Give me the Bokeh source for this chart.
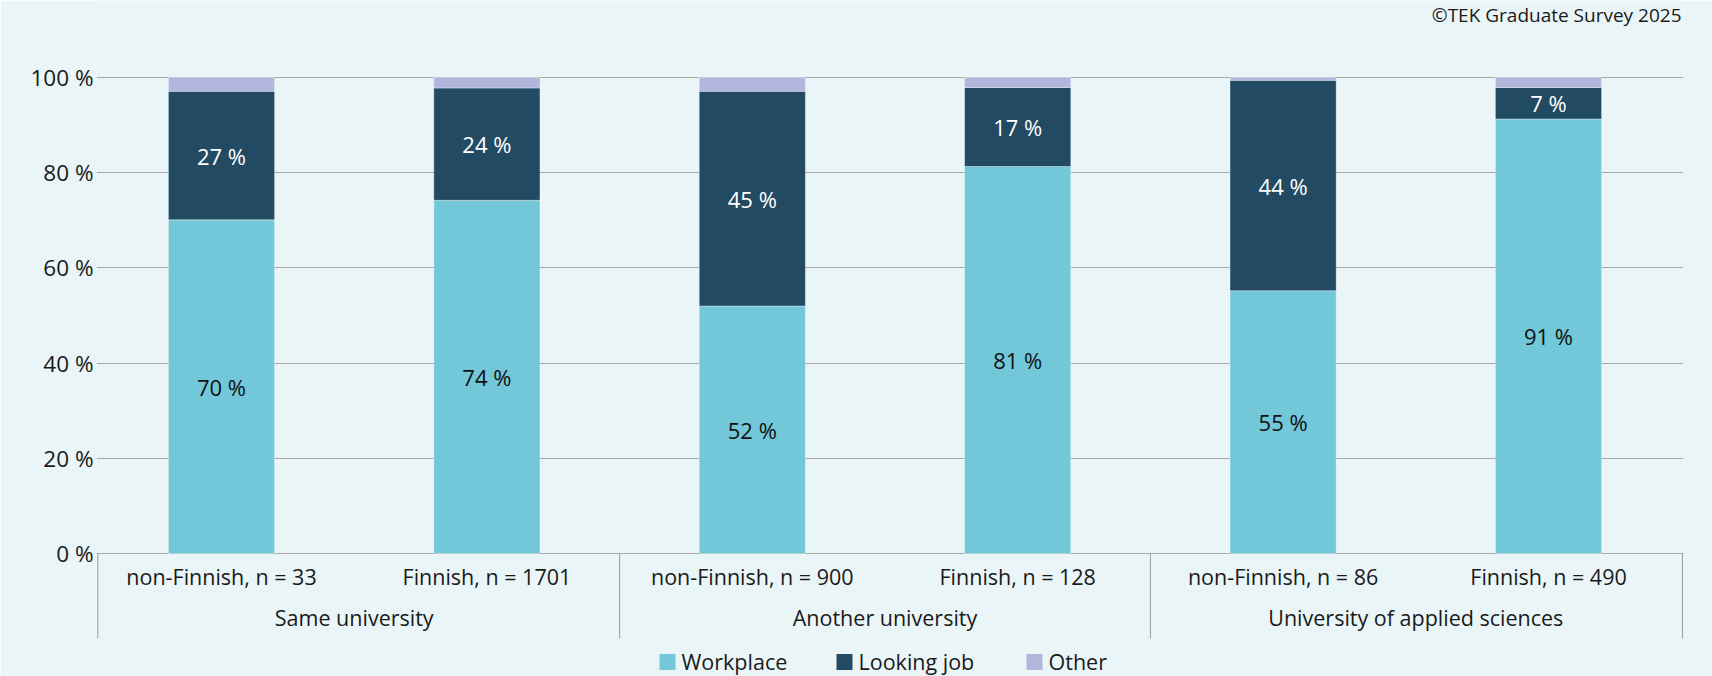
from bokeh.plotting import figure
from bokeh.models import ColumnDataSource, Range1d, FixedTicker
from bokeh.embed import file_html
from bokeh.resources import INLINE
from bokeh.core.properties import value

# ---------------- data ----------------
groups = ["Same university", "Another university", "University of applied sciences"]
subgroups = ["non-Finnish, n = 33", "Finnish, n = 1701",
             "non-Finnish, n = 900", "Finnish, n = 128",
             "non-Finnish, n = 86", "Finnish, n = 490"]
series = ["Workplace", "Looking job", "Other"]
workplace = [70.1, 74.2, 52.0, 81.3, 55.2, 91.3]
looking = [27.0, 23.6, 45.1, 16.6, 44.2, 6.6]
other = [2.9, 2.2, 2.9, 2.1, 0.6, 2.1]
y_ticks = [0, 20, 40, 60, 80, 100]
credit = "©TEK Graduate Survey 2025"

# ---------------- style ----------------
colors = ["#72c7d9", "#224a63", "#b0b6dc"]
BG = "#eaf5f7"
TXT = "#1a1a1a"
FONT = "Open Sans"
FS = "21.5px"
GRID = "#a8a8a8"
BOX = "#9a9a9a"

# ---------------- layout (pixels) ----------------
W, H = 1712, 676
FRAME_L, FRAME_R = 96, 1683
CAT_W = 265.4          # pixel width of one category
CAT0 = 88.3            # pixel where category index 0 begins
Y0_PX = 553.0          # pixel of value 0 (from top)
PX_PER = 4.76          # pixels per percent


def xd(px):
    return (px - CAT0) / CAT_W


def yd(py):
    return (Y0_PX - py) / PX_PER


p = figure(width=W, height=H, output_backend="svg", toolbar_location=None,
           x_axis_type=None,
           x_range=Range1d(xd(FRAME_L), xd(FRAME_R)),
           y_range=Range1d(yd(H), yd(0)),
           min_border_left=FRAME_L, min_border_right=W - FRAME_R,
           min_border_top=0, min_border_bottom=0)
p.background_fill_color = BG
p.border_fill_color = BG
p.outline_line_color = None

# y axis
yax = p.yaxis[0]
yax.ticker = FixedTicker(ticks=y_ticks)
yax.major_label_overrides = {t: f"{t} %" for t in y_ticks}
yax.axis_line_color = None
yax.major_tick_line_color = None
yax.minor_tick_line_color = None
yax.major_tick_out = 0
yax.major_tick_in = 0
yax.major_label_standoff = 3
yax.major_label_text_font = FONT
yax.major_label_text_font_size = "22.5px"
yax.major_label_text_color = TXT
p.ygrid.ticker = FixedTicker(ticks=y_ticks)
p.ygrid.grid_line_color = GRID
p.ygrid.grid_line_width = 1

# bars
xs = [i + 0.5 for i in range(len(subgroups))]
src = ColumnDataSource(dict(x=xs, Workplace=workplace, **{"Looking job": looking}, Other=other))
p.vbar_stack(series, x="x", width=0.40, color=colors, source=src,
             line_color="white", line_alpha=0.35, line_width=1)

# data labels
wp_y = [w / 2 for w in workplace]
lk_y = [w + l / 2 for w, l in zip(workplace, looking)]
p.text(x=xs, y=wp_y, text=[f"{round(v)} %" for v in workplace],
       text_font=value(FONT), text_font_size="22px", text_color="#111111",
       text_align="center", text_baseline="middle")
p.text(x=xs, y=lk_y, text=[f"{round(v)} %" for v in looking],
       text_font=value(FONT), text_font_size="22px", text_color="#ffffff",
       text_align="center", text_baseline="middle")

# category axis (box + labels)
bounds = [xd(97.3)] + [2 * (g + 1) for g in range(len(groups) - 1)] + [xd(1682)]
p.segment(x0=bounds, y0=[0] * len(bounds), x1=bounds, y1=[yd(638)] * len(bounds),
          line_color=BOX, line_width=1)
p.text(x=xs, y=[yd(575.5)] * len(xs), text=subgroups,
       text_font=value(FONT), text_font_size=FS, text_color=TXT,
       text_align="center", text_baseline="middle")
p.text(x=[2 * g + 1 for g in range(len(groups))], y=[yd(617)] * len(groups), text=groups,
       text_font=value(FONT), text_font_size=FS, text_color=TXT,
       text_align="center", text_baseline="middle")

# legend
sq_px = [667, 844, 1034]
p.scatter(x=[xd(v) for v in sq_px], y=[yd(661.5)] * 3, marker="square", size=16,
          color=colors, line_color=None)
p.text(x=[xd(v + 14) for v in sq_px], y=[yd(661)] * 3, text=series,
       text_font=value(FONT), text_font_size=FS, text_color=TXT,
       text_align="left", text_baseline="middle")

# credit
p.text(x=[xd(1681)], y=[yd(14)], text=[credit],
       text_font=value(FONT), text_font_size="19px", text_color=TXT,
       text_align="right", text_baseline="middle")

html = file_html(p, INLINE)
html = html.replace("<body>", f'<body style="background-color:{BG};">', 1)
open("out.html", "w").write(html)
